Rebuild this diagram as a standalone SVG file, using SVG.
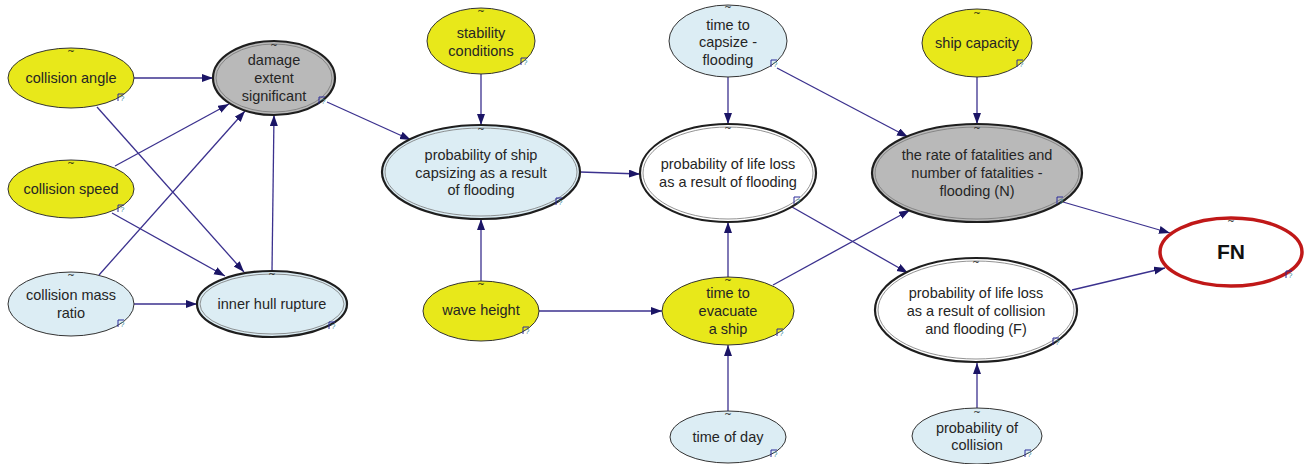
<svg xmlns="http://www.w3.org/2000/svg" width="1309" height="464" viewBox="0 0 1309 464">
<defs>
<style>
.t{font-family:"Liberation Sans",Arial,sans-serif;font-size:14.5px;fill:#252525;text-anchor:middle}
.fn{font-family:"Liberation Sans",Arial,sans-serif;font-size:21px;font-weight:bold;fill:#111;text-anchor:middle}
.tl{font-family:"DejaVu Sans",sans-serif;font-size:9px;fill:#111;text-anchor:middle}
.q{font-family:"Liberation Sans",Arial,sans-serif;font-size:8px;fill:#3f8fa0}
.qb{fill:none;stroke:#2a2a9a;stroke-width:1}
.y{fill:#e8e81a;stroke:#333;stroke-width:1}
.b{fill:#dcedf4;stroke:#333;stroke-width:1}
.g2{fill:#b9b9b9;stroke:#1e1e1e;stroke-width:2.2}
.b2{fill:#dcedf4;stroke:#1e1e1e;stroke-width:2.2}
.w2{fill:#ffffff;stroke:#1e1e1e;stroke-width:2.2}
.in{fill:none;stroke:#777;stroke-width:0.8}
.red{fill:#ffffff;stroke:#c01818;stroke-width:3.5}
.e{stroke:#3b318e;stroke-width:1.3;fill:none;marker-end:url(#ah)}
</style>
<marker id="ah" markerUnits="userSpaceOnUse" markerWidth="12" markerHeight="9" refX="11" refY="4" orient="auto">
<path d="M0,0 L11,4 L0,8 z" fill="#1b1566"/>
</marker>
</defs>
<rect width="1309" height="464" fill="#ffffff"/>
<g id="connectors">
<line class="e" x1="134" y1="78" x2="213" y2="78"/>
<line class="e" x1="97" y1="107" x2="244" y2="272"/>
<line class="e" x1="115" y1="166" x2="229" y2="104"/>
<line class="e" x1="112" y1="213" x2="225" y2="276"/>
<line class="e" x1="99" y1="275" x2="245" y2="111"/>
<line class="e" x1="134" y1="304" x2="197" y2="304"/>
<line class="e" x1="272" y1="271" x2="274" y2="115"/>
<line class="e" x1="327" y1="102" x2="411" y2="140"/>
<line class="e" x1="481" y1="74" x2="481" y2="125"/>
<line class="e" x1="481" y1="281" x2="481" y2="219"/>
<line class="e" x1="580" y1="172" x2="640" y2="174"/>
<line class="e" x1="539" y1="311" x2="662" y2="311"/>
<line class="e" x1="728" y1="411" x2="728" y2="345"/>
<line class="e" x1="728" y1="277" x2="728" y2="222"/>
<line class="e" x1="728" y1="77" x2="728" y2="124"/>
<line class="e" x1="777" y1="68" x2="908" y2="137"/>
<line class="e" x1="977" y1="77" x2="977" y2="124"/>
<line class="e" x1="773" y1="285" x2="910" y2="210"/>
<line class="e" x1="792" y1="207" x2="908" y2="273"/>
<line class="e" x1="1063" y1="202" x2="1170" y2="233"/>
<line class="e" x1="1072" y1="290" x2="1165" y2="268"/>
<line class="e" x1="977" y1="408" x2="977" y2="363"/>
</g>
<g id="collision_angle">
<ellipse class="y" cx="71" cy="78" rx="63" ry="30"/>
<text class="tl" x="71" y="54">~</text>
<text class="t" x="71" y="83">collision angle</text>
<path class="qb" d="M118,101 V94 H124"/><text class="q" x="120" y="101">?</text>
</g>
<g id="collision_speed">
<ellipse class="y" cx="71" cy="189" rx="63" ry="29"/>
<text class="tl" x="71" y="166">~</text>
<text class="t" x="71" y="194">collision speed</text>
<path class="qb" d="M118,212 V205 H124"/><text class="q" x="120" y="212">?</text>
</g>
<g id="collision_mass_ratio">
<ellipse class="b" cx="71" cy="304" rx="63" ry="32"/>
<text class="tl" x="71" y="278">~</text>
<text class="t" x="71" y="300">collision mass</text>
<text class="t" x="71" y="318">ratio</text>
<path class="qb" d="M118,327 V320 H124"/><text class="q" x="120" y="327">?</text>
</g>
<g id="damage_extent">
<ellipse class="g2" cx="274" cy="78" rx="61" ry="37"/>
<ellipse class="in" cx="274" cy="78" rx="58" ry="34"/>
<text class="tl" x="274" y="48">~</text>
<text class="t" x="274" y="65">damage</text>
<text class="t" x="274" y="83">extent</text>
<text class="t" x="274" y="101">significant</text>
<path class="qb" d="M319,104 V97 H325"/><text class="q" x="321" y="104">?</text>
</g>
<g id="inner_hull_rupture">
<ellipse class="b2" cx="272" cy="304" rx="75" ry="33"/>
<ellipse class="in" cx="272" cy="304" rx="72" ry="30"/>
<text class="tl" x="272" y="277">~</text>
<text class="t" x="272" y="309">inner hull rupture</text>
<path class="qb" d="M329,329 V322 H335"/><text class="q" x="331" y="329">?</text>
</g>
<g id="stability_conditions">
<ellipse class="y" cx="481" cy="41" rx="54" ry="33"/>
<text class="tl" x="481" y="14">~</text>
<text class="t" x="481" y="38">stability</text>
<text class="t" x="481" y="56">conditions</text>
<path class="qb" d="M521,65 V58 H527"/><text class="q" x="523" y="65">?</text>
</g>
<g id="prob_ship_capsizing">
<ellipse class="b2" cx="481" cy="172" rx="99" ry="47"/>
<ellipse class="in" cx="481" cy="172" rx="96" ry="44"/>
<text class="tl" x="481" y="132">~</text>
<text class="t" x="481" y="160">probability of ship</text>
<text class="t" x="481" y="178">capsizing as a result</text>
<text class="t" x="481" y="195">of flooding</text>
<path class="qb" d="M556,205 V198 H562"/><text class="q" x="558" y="205">?</text>
</g>
<g id="wave_height">
<ellipse class="y" cx="481" cy="311" rx="58" ry="30"/>
<text class="tl" x="481" y="287">~</text>
<text class="t" x="481" y="315">wave height</text>
<path class="qb" d="M523,334 V327 H529"/><text class="q" x="525" y="334">?</text>
</g>
<g id="time_to_evacuate">
<ellipse class="y" cx="728" cy="311" rx="66" ry="34"/>
<text class="tl" x="728" y="283">~</text>
<text class="t" x="728" y="298">time to</text>
<text class="t" x="728" y="316">evacuate</text>
<text class="t" x="728" y="334">a ship</text>
<path class="qb" d="M777,336 V329 H783"/><text class="q" x="779" y="336">?</text>
</g>
<g id="time_of_day">
<ellipse class="b" cx="728" cy="437" rx="58" ry="26"/>
<text class="tl" x="728" y="417">~</text>
<text class="t" x="728" y="442">time of day</text>
<path class="qb" d="M771,457 V450 H777"/><text class="q" x="773" y="457">?</text>
</g>
<g id="time_to_capsize">
<ellipse class="b" cx="728" cy="41" rx="59" ry="36"/>
<text class="tl" x="728" y="10">~</text>
<text class="t" x="728" y="30">time to</text>
<text class="t" x="728" y="47">capsize -</text>
<text class="t" x="728" y="65">flooding</text>
<path class="qb" d="M771,67 V60 H777"/><text class="q" x="773" y="67">?</text>
</g>
<g id="prob_life_loss_flooding">
<ellipse class="w2" cx="728" cy="173" rx="88" ry="49"/>
<ellipse class="in" cx="728" cy="173" rx="85" ry="46"/>
<text class="tl" x="728" y="131">~</text>
<text class="t" x="728" y="169">probability of life loss</text>
<text class="t" x="728" y="187">as a result of flooding</text>
<path class="qb" d="M794,204 V197 H800"/><text class="q" x="796" y="204">?</text>
</g>
<g id="ship_capacity">
<ellipse class="y" cx="977" cy="43" rx="55" ry="34"/>
<text class="tl" x="977" y="16">~</text>
<text class="t" x="977" y="48">ship capacity</text>
<path class="qb" d="M1017,67 V60 H1023"/><text class="q" x="1019" y="67">?</text>
</g>
<g id="rate_of_fatalities">
<ellipse class="g2" cx="977" cy="173" rx="105" ry="49"/>
<ellipse class="in" cx="977" cy="173" rx="102" ry="46"/>
<text class="tl" x="977" y="131">~</text>
<text class="t" x="977" y="160">the rate of fatalities and</text>
<text class="t" x="977" y="178">number of fatalities -</text>
<text class="t" x="977" y="196">flooding (N)</text>
<path class="qb" d="M1057,204 V197 H1063"/><text class="q" x="1059" y="204">?</text>
</g>
<g id="prob_life_loss_collision_flooding">
<ellipse class="w2" cx="976" cy="310" rx="101" ry="52"/>
<ellipse class="in" cx="976" cy="310" rx="98" ry="49"/>
<text class="tl" x="976" y="265">~</text>
<text class="t" x="976" y="298">probability of life loss</text>
<text class="t" x="976" y="316">as a result of collision</text>
<text class="t" x="976" y="334">and flooding (F)</text>
<path class="qb" d="M1053,345 V338 H1059"/><text class="q" x="1055" y="345">?</text>
</g>
<g id="prob_of_collision">
<ellipse class="b" cx="977" cy="436" rx="65" ry="28"/>
<text class="tl" x="977" y="415">~</text>
<text class="t" x="977" y="433">probability of</text>
<text class="t" x="977" y="450">collision</text>
<path class="qb" d="M1025,457 V450 H1031"/><text class="q" x="1027" y="457">?</text>
</g>
<g id="FN">
<ellipse class="red" cx="1231" cy="252" rx="71" ry="34"/>
<text class="tl" x="1231" y="224">~</text>
<text class="fn" x="1231" y="259">FN</text>
<path class="qb" d="M1286,278 V271 H1292"/><text class="q" x="1288" y="278">?</text>
</g>
</svg>
